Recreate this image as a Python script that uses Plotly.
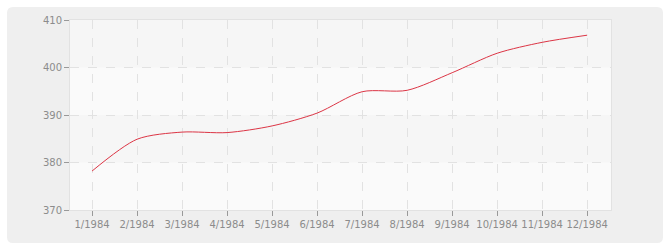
import plotly.graph_objects as go

months = ["1/1984", "2/1984", "3/1984", "4/1984", "5/1984", "6/1984",
          "7/1984", "8/1984", "9/1984", "10/1984", "11/1984", "12/1984"]
values = [378.2, 384.9, 386.4, 386.3, 387.7, 390.4,
          394.9, 395.2, 398.9, 403.0, 405.3, 406.8]
y_ticks = [370, 380, 390, 400, 410]

W, H = 670, 250
L, R, T, B = 70, 59, 20, 40
pw, ph = W - L - R, H - T - B

fig = go.Figure()
fig.add_trace(go.Scatter(
    x=list(range(len(months))), y=values, mode="lines",
    line=dict(color="#dc3545", width=1, shape="spline", smoothing=0.8),
    hoverinfo="skip", showlegend=False))

def px_x(p):
    return (p - L) / pw

def px_y(p):
    return (H - B - p) / ph

x0, x1, y0, y1 = px_x(7), px_x(663), px_y(243), px_y(7)
rx, ry = 6 / pw, 6 / ph
path = (f"M {x0+rx},{y1} L {x1-rx},{y1} Q {x1},{y1} {x1},{y1-ry} "
        f"L {x1},{y0+ry} Q {x1},{y0} {x1-rx},{y0} L {x0+rx},{y0} "
        f"Q {x0},{y0} {x0},{y0+ry} L {x0},{y1-ry} Q {x0},{y1} {x0+rx},{y1} Z")
shapes = [dict(type="path", path=path, xref="paper", yref="paper",
               fillcolor="#efefef", line=dict(width=0), layer="below")]
shapes.append(dict(type="rect", xref="paper", yref="paper", x0=0, x1=1, y0=0, y1=1,
                   fillcolor="#f6f6f6", line=dict(width=0), layer="below"))
for lo in (370, 390):
    shapes.append(dict(type="rect", xref="paper", yref="y", x0=0, x1=1, y0=lo, y1=lo + 10,
                       fillcolor="#fafafa", line=dict(width=0), layer="below"))

font = dict(family="DejaVu Sans, Verdana, sans-serif", size=10, color="#8c8c8c")
fig.update_layout(
    width=W, height=H, margin=dict(l=L, r=R, t=T, b=B, autoexpand=False),
    paper_bgcolor="white", plot_bgcolor="rgba(0,0,0,0)",
    shapes=shapes, font=font,
    xaxis=dict(range=[-0.49, 11.53], tickmode="array",
               tickvals=list(range(len(months))), ticktext=months,
               tickangle=0, automargin=False,
               showgrid=True, gridcolor="#e2e2e2", griddash="dash", gridwidth=1,
               ticks="outside", ticklen=5, tickcolor="#999999",
               showline=True, linecolor="#e2e2e2", mirror=True, zeroline=False,
               fixedrange=True),
    yaxis=dict(range=[370, 410], tickmode="array", tickvals=y_ticks,
               automargin=False,
               showgrid=True, gridcolor="#e2e2e2", griddash="dash", gridwidth=1,
               ticks="outside", ticklen=5, tickcolor="#999999",
               showline=True, linecolor="#e2e2e2", mirror=True, zeroline=False,
               fixedrange=True),
)
fig.write_html("out.html")
